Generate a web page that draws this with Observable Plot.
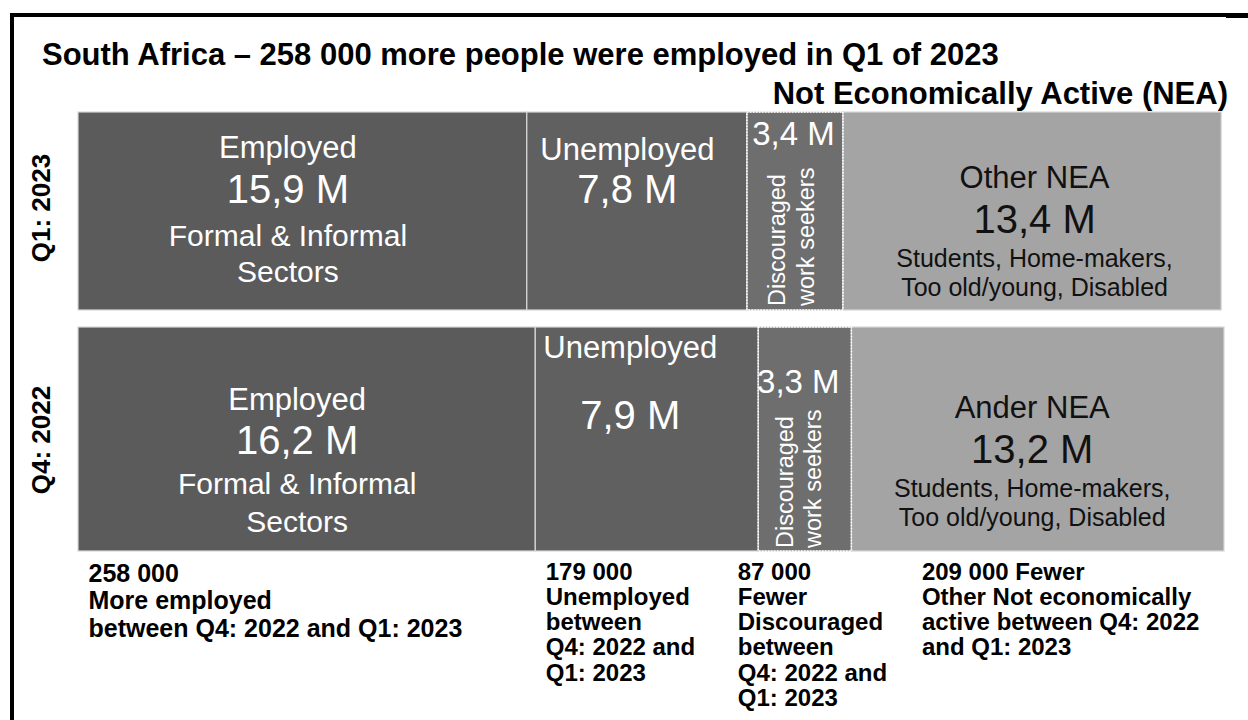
<!DOCTYPE html>
<html>
<head>
<meta charset="utf-8">
<script src="https://cdn.jsdelivr.net/npm/d3@7"></script>
<script src="https://cdn.jsdelivr.net/npm/@observablehq/plot@0.6"></script>
<style>
  html, body { margin: 0; padding: 0; background: #fff; }
  #wrap { position: relative; width: 1248px; height: 720px; overflow: hidden; font-family: "Liberation Sans", Arial, sans-serif; }
  #frame { position: absolute; left: 10px; top: 13px; right: -10px; bottom: -10px; border-top: 4px solid #000; border-left: 4px solid #000; }
  #frameStep { position: absolute; left: 1226px; top: 13px; width: 22px; height: 5px; background: #000; }
  #title { position: absolute; left: 42px; top: 39px; font-size: 31px; font-weight: bold; line-height: 31px; white-space: nowrap; color: #000; }
  #nea { position: absolute; right: 20px; top: 78px; font-size: 31px; font-weight: bold; line-height: 31px; white-space: nowrap; color: #000; }
  #chart { position: absolute; left: 0; top: 0; }
</style>
</head>
<body>
<div id="wrap">
  <div id="chart"></div>
  <div id="frame"></div>
  <div id="frameStep"></div>
  <div id="title">South Africa – 258 000 more people were employed in Q1 of 2023</div>
  <div id="nea">Not Economically Active (NEA)</div>
</div>
<script>
// ---------- data ----------
const periods = ["Q1: 2023", "Q4: 2022"];
const categories = ["Employed", "Unemployed", "Discouraged", "Other NEA"];
const valuesQ1 = [15.9, 7.8, 3.4, 13.4];
const valuesQ4 = [16.2, 7.9, 3.3, 13.2];
const valueLabelsQ1 = ["15,9 M", "7,8 M", "3,4 M", "13,4 M"];
const valueLabelsQ4 = ["16,2 M", "7,9 M", "3,3 M", "13,2 M"];
const namesQ1 = ["Employed", "Unemployed", "", "Other NEA"];
const namesQ4 = ["Employed", "Unemployed", "", "Ander NEA"];
const details = [
  "Formal & Informal\nSectors",
  "",
  "Discouraged\nwork seekers",
  "Students, Home-makers,\nToo old/young, Disabled"
];
const changeNotes = [
  "258 000\nMore employed\nbetween Q4: 2022 and Q1: 2023",
  "179 000\nUnemployed\nbetween\nQ4: 2022 and\nQ1: 2023",
  "87 000\nFewer\nDiscouraged\nbetween\nQ4: 2022 and\nQ1: 2023",
  "209 000 Fewer\nOther Not economically\nactive between Q4: 2022\nand Q1: 2023"
];

// ---------- table built from the arrays ----------
const table = [];
categories.forEach((c, i) => table.push({period: periods[0], category: c, value: valuesQ1[i], valueLabel: valueLabelsQ1[i], name: namesQ1[i], detail: details[i], note: ""}));
categories.forEach((c, i) => table.push({period: periods[1], category: c, value: valuesQ4[i], valueLabel: valueLabelsQ4[i], name: namesQ4[i], detail: details[i], note: changeNotes[i]}));

// ---------- styles ----------
const fills = ["#5b5b5b", "#606060", "#6e6e6e", "#a4a4a4"];
const textFill = {Employed: "#fff", Unemployed: "#fff", Discouraged: "#fff", "Other NEA": "#111"};

// per period / category / field layout (style only)
const layout = [
  // Q1
  {p: 0, c: "Employed", f: "name", dy: -70, dx: -15, size: 31},
  {p: 0, c: "Employed", f: "valueLabel", dy: -28, dx: -15, size: 40},
  {p: 0, c: "Employed", f: "detail", dy: 34, dx: -15, size: 30, lh: 1.2},
  {p: 0, c: "Unemployed", f: "name", dy: -68, dx: -10, size: 31},
  {p: 0, c: "Unemployed", f: "valueLabel", dy: -28, dx: -10, size: 40},
  {p: 0, c: "Discouraged", f: "valueLabel", dy: -84, dx: -2, size: 33},
  {p: 0, c: "Discouraged", f: "detail", dy: 88, dx: -5, size: 23.5, lh: 1.2, rotate: -90},
  {p: 0, c: "Other NEA", f: "name", dy: -40, dx: 2, size: 31},
  {p: 0, c: "Other NEA", f: "valueLabel", dy: 2, dx: 2, size: 40},
  {p: 0, c: "Other NEA", f: "detail", dy: 54, dx: 2, size: 25, lh: 1.16},
  // Q4
  {p: 1, c: "Employed", f: "name", dy: -46, dx: -10, size: 31},
  {p: 1, c: "Employed", f: "valueLabel", dy: -5, dx: -10, size: 40},
  {p: 1, c: "Employed", f: "detail", dy: 55, dx: -10, size: 30, lh: 1.25},
  {p: 1, c: "Unemployed", f: "name", dy: -98, dx: -17, size: 31},
  {p: 1, c: "Unemployed", f: "valueLabel", dy: -30, dx: -17, size: 40},
  {p: 1, c: "Discouraged", f: "valueLabel", dy: -64, dx: -7, size: 33},
  {p: 1, c: "Discouraged", f: "detail", dy: 102, dx: -7, size: 23.5, lh: 1.2, rotate: -90},
  {p: 1, c: "Other NEA", f: "name", dy: -38, dx: -6, size: 31},
  {p: 1, c: "Other NEA", f: "valueLabel", dy: 4, dx: -6, size: 40},
  {p: 1, c: "Other NEA", f: "detail", dy: 56, dx: -6, size: 25, lh: 1.16}
];
const noteStyle = {
  Employed: {dx: 10, size: 25, lh: 1.1},
  Unemployed: {dx: 10, size: 24, lh: 1.05},
  Discouraged: {dx: -21, size: 24, lh: 1.05},
  "Other NEA": {dx: 70, size: 24, lh: 1.05}
};
const rowLabelDy = [-10, -6];

const font = "Liberation Sans, Arial, sans-serif";
const rows = p => table.filter(d => d.period === periods[p]);

const marks = [];
// bars: Q1 trimmed at bottom, Q4 extended at top
[[0, {insetBottom: 13}], [1, {insetTop: -13}]].forEach(([p, inset]) => {
  marks.push(Plot.barX(rows(p), Plot.stackX({
    x: "value", y: "period", fill: "category", stroke: "#d8d8d8", strokeWidth: 1.2, ...inset
  })));
  marks.push(Plot.barX(rows(p), Plot.stackX({
    x: "value", y: "period", fill: "none", stroke: "#ffffff", strokeWidth: 1.5,
    strokeDasharray: "1.5,1.5", strokeOpacity: d => d.category === "Discouraged" ? 1 : 0, ...inset
  })));
});

// in-bar labels
layout.forEach(L => {
  marks.push(Plot.text(rows(L.p), Plot.stackX({
    x: "value", y: "period",
    text: d => (d.category === L.c && d[L.f]) ? d[L.f] : null,
    fill: textFill[L.c],
    fontSize: L.size,
    lineHeight: L.lh || 1,
    dx: L.dx, dy: L.dy,
    rotate: L.rotate || 0,
    textAnchor: L.rotate ? "start" : "middle",
    lineAnchor: "middle"
  })));
});

// change notes below the Q4 bars, left-aligned at each segment start
categories.forEach(c => {
  const s = noteStyle[c];
  marks.push(Plot.text(rows(1), Plot.stackX1({
    x: "value", y: "period",
    text: d => d.category === c ? d.note : null,
    textAnchor: "start", lineAnchor: "top",
    fontSize: s.size, fontWeight: "bold", lineHeight: s.lh, fill: "#000",
    dx: s.dx, dy: 116
  })));
});

// row labels
periods.forEach((p, i) => {
  marks.push(Plot.text([p], {
    y: d => d, text: d => d, frameAnchor: "left", rotate: -90, textAnchor: "middle",
    fontSize: 26, fontWeight: "bold", fill: "#000", dx: -37, dy: rowLabelDy[i]
  }));
});

const chart = Plot.plot({
  width: 1248, height: 720,
  marginLeft: 78, marginRight: 24, marginTop: 112, marginBottom: 168,
  x: {domain: [0, 40.6], axis: null},
  y: {domain: periods, axis: null, paddingInner: 0.0744, paddingOuter: 0},
  color: {domain: categories, range: fills},
  style: {fontFamily: font, background: "transparent", overflow: "visible"},
  marks
});
document.getElementById("chart").appendChild(chart);
</script>
</body>
</html>
